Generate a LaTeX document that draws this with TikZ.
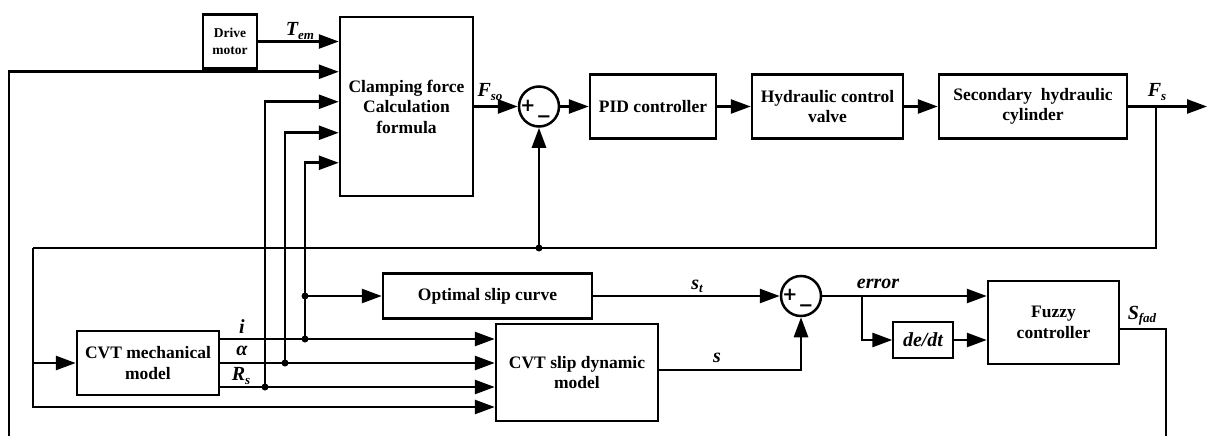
\documentclass[tikz,border=0pt]{standalone}
\usepackage{fontspec}
\setmainfont{Liberation Serif}
\newfontfamily\signfont{DejaVu Sans}
\usetikzlibrary{arrows.meta,calc}
\newcommand\lsub[1]{\raisebox{-0.35ex}{\fontsize{13}{13}\selectfont #1}}
\begin{document}
\begin{tikzpicture}[x=1pt,y=-1pt,
  blk/.style={draw,line width=2.5pt,align=center,font=\fontsize{17.5}{20.5}\selectfont\bfseries,inner sep=0pt},
  line/.style={line width=2.7pt},
  arr/.style={line width=2.7pt,-{Triangle[length=20pt,width=14pt]}},
  lab/.style={font=\fontsize{20}{22}\selectfont\bfseries\itshape,inner sep=0pt},
  sgn/.style={font=\signfont\fontsize{18}{18}\selectfont\bfseries,inner sep=0pt},
  dot/.style={circle,fill,inner sep=0pt,minimum size=7pt},
  sumc/.style={circle,draw,line width=2.5pt,minimum size=40pt,inner sep=0pt}
]
\useasboundingbox (0,0) rectangle (1207,436);
% blocks
\node[blk,minimum width=54pt,minimum height=54pt,font=\fontsize{13.5}{17}\selectfont\bfseries] (dm) at (230,41.5) {Drive\\motor};
\node[blk,minimum width=133pt,minimum height=179pt] (clamp) at (406.5,106.5) {Clamping force\\Calculation\\formula};
\node[sumc] (s1) at (539,106.5) {};
\node[blk,minimum width=126pt,minimum height=64pt] (pid) at (653,106.5) {PID controller};
\node[blk,minimum width=151pt,minimum height=64pt] (hcv) at (827.5,106.5) {Hydraulic control\\valve};
\node[blk,minimum width=188pt,minimum height=64pt] (shc) at (1033,106.5) {Secondary\ \ hydraulic\\cylinder};
\node[blk,minimum width=142pt,minimum height=64pt] (mech) at (148,363) {CVT mechanical\\model};
\node[blk,minimum width=209pt,minimum height=45pt] (osc) at (487.5,296) {Optimal slip curve};
\node[blk,minimum width=162pt,minimum height=97pt] (slip) at (577,372.5) {CVT slip dynamic\\model};
\node[sumc] (s2) at (801,296) {};
\node[draw,line width=1.4pt,minimum width=60pt,minimum height=36pt,inner sep=0pt,font=\fontsize{20}{22}\selectfont\bfseries\itshape] (dedt) at (923,340) {de/dt};
\node[blk,minimum width=131pt,minimum height=83pt] (fuzzy) at (1053.5,322.5) {Fuzzy\\controller};
% signs
\node[sgn] (p1) at (528,105.5) {+};
\node[sgn] (m1) at (544,119) {−};
\node[sgn] (p2) at (790,295) {+};
\node[sgn] (m2) at (806,308.5) {−};
% dots
\node[dot] (di) at (305,339) {};
\node[dot] (da) at (285,363) {};
\node[dot] (dR) at (265,387) {};
\node[dot] (dos) at (305,296) {};
\node[dot] (dfb) at (539,248) {};
% coordinates
\coordinate (bl) at (9,436);
\coordinate (fsend) at (1207,106.5);
\coordinate (fbr) at (1156,106.5);
\coordinate (fl) at (33,248);
\coordinate (sin4) at ([yshift=-34.5pt]slip.west);
\coordinate (fm) at (fl |- mech.west);
\coordinate (oi) at ([yshift=24pt]mech.east);
\coordinate (oa) at (mech.east);
\coordinate (oR) at ([yshift=-24pt]mech.east);
\coordinate (eb) at (862,296);
\coordinate (sf) at ([yshift=-6.5pt]fuzzy.east);
\coordinate (sfend) at (1166,436);
% upper loop
\draw[arr] (dm.east) -- (dm.east -| clamp.west);
\draw[arr] (bl) |- ([yshift=-56pt]clamp.north west);
\draw[arr] (dR.center) |- ([yshift=-86pt]clamp.north west);
\draw[arr] (da.center) |- ([yshift=-117pt]clamp.north west);
\draw[arr] (di.center) |- ([yshift=-147pt]clamp.north west);
\draw[arr] (clamp.east) -- (s1.west);
\draw[arr] (s1.east) -- (pid.west);
\draw[arr] (pid.east) -- (hcv.west);
\draw[arr] (hcv.east) -- (shc.west);
\draw[arr] (shc.east) -- (fsend);
\draw[line] (fbr) |- (fl);
\draw[arr] (fl) |- (sin4);
\draw[arr] (fm) -- (mech.west);
\draw[arr] (dfb.center) -- (s1.south);
% lower part
\draw[arr] (oi) -- (oi -| slip.west);
\draw[arr] (oa) -- (oa -| slip.west);
\draw[arr] (oR) -- (oR -| slip.west);
\draw[arr] (dos.center) -- (osc.west);
\draw[arr] (osc.east) -- (s2.west);
\draw[arr] ([yshift=2.5pt]slip.east) -| (s2.south);
\draw[arr] (s2.east) -- (s2.east -| fuzzy.west);
\draw[arr] (eb) |- (dedt.west);
\draw[arr] (dedt.east) -- (dedt.east -| fuzzy.west);
\draw[line] (sf) -| (sfend);
% labels
\node[lab] (lT) at (300,31) {T\lsub{em}};
\node[lab] (lFso) at (490,92) {F\lsub{so}};
\node[lab] (lFs) at (1157,92) {F\lsub{s}};
\node[lab] (li) at (242,327) {i};
\node[lab] (la) at (242,351) {α};
\node[lab] (lR) at (241,376) {R\lsub{s}};
\node[lab] (lst) at (697,286) {s\lsub{t}};
\node[lab] (ls) at (717,358) {s};
\node[lab] (le) at (878,284) {error};
\node[lab] (lS) at (1142,316) {S\lsub{fad}};
\end{tikzpicture}
\end{document}
